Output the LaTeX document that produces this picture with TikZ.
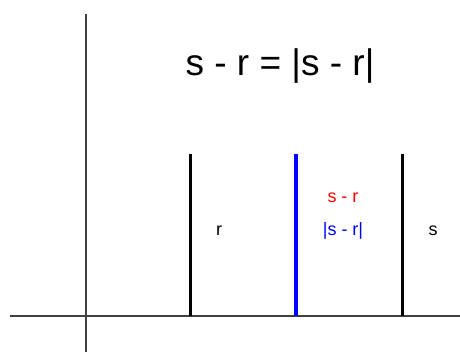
\documentclass[tikz,border=0pt]{standalone}
\usepackage{fontspec}
\setmainfont{Liberation Sans}
\begin{document}
\begin{tikzpicture}[x=1pt,y=-1pt,
  axis/.style={draw=black!75,line width=1.4pt},
  bar/.style={line width=3pt},
  lbl/.style={inner sep=0pt,anchor=base,font=\fontsize{18}{20}\selectfont}]
\useasboundingbox (0,0) rectangle (460,352);
% axes
\coordinate (yt) at (86,14);
\coordinate (yb) at (86,352);
\coordinate (xl) at (10,316);
\coordinate (xr) at (460,316);
\draw[axis] (yt) -- (yb);
\draw[axis] (xl) -- (xr);
% bars
\coordinate (r1) at (190,154); \coordinate (r0) at (190,316);
\coordinate (d1) at (296,154); \coordinate (d0) at (296,316);
\coordinate (s1) at (402,154); \coordinate (s0) at (402,316);
\draw[bar,black] (r1) -- (r0);
\draw[bar,blue,line width=3.6pt] (d1) -- (d0);
\draw[bar,black] (s1) -- (s0);
% texts
\node[inner sep=0pt,anchor=base,font=\fontsize{37}{40}\selectfont] (title) at (280,76) {s - r = |s - r|};
\node[lbl,red] (sr) at (343,203) {s - r};
\node[lbl,blue] (asr) at (343,236) {|s - r|};
\node[lbl] (rl) at (219,236) {r};
\node[lbl] (sl) at (433,236) {s};
\end{tikzpicture}
\end{document}
